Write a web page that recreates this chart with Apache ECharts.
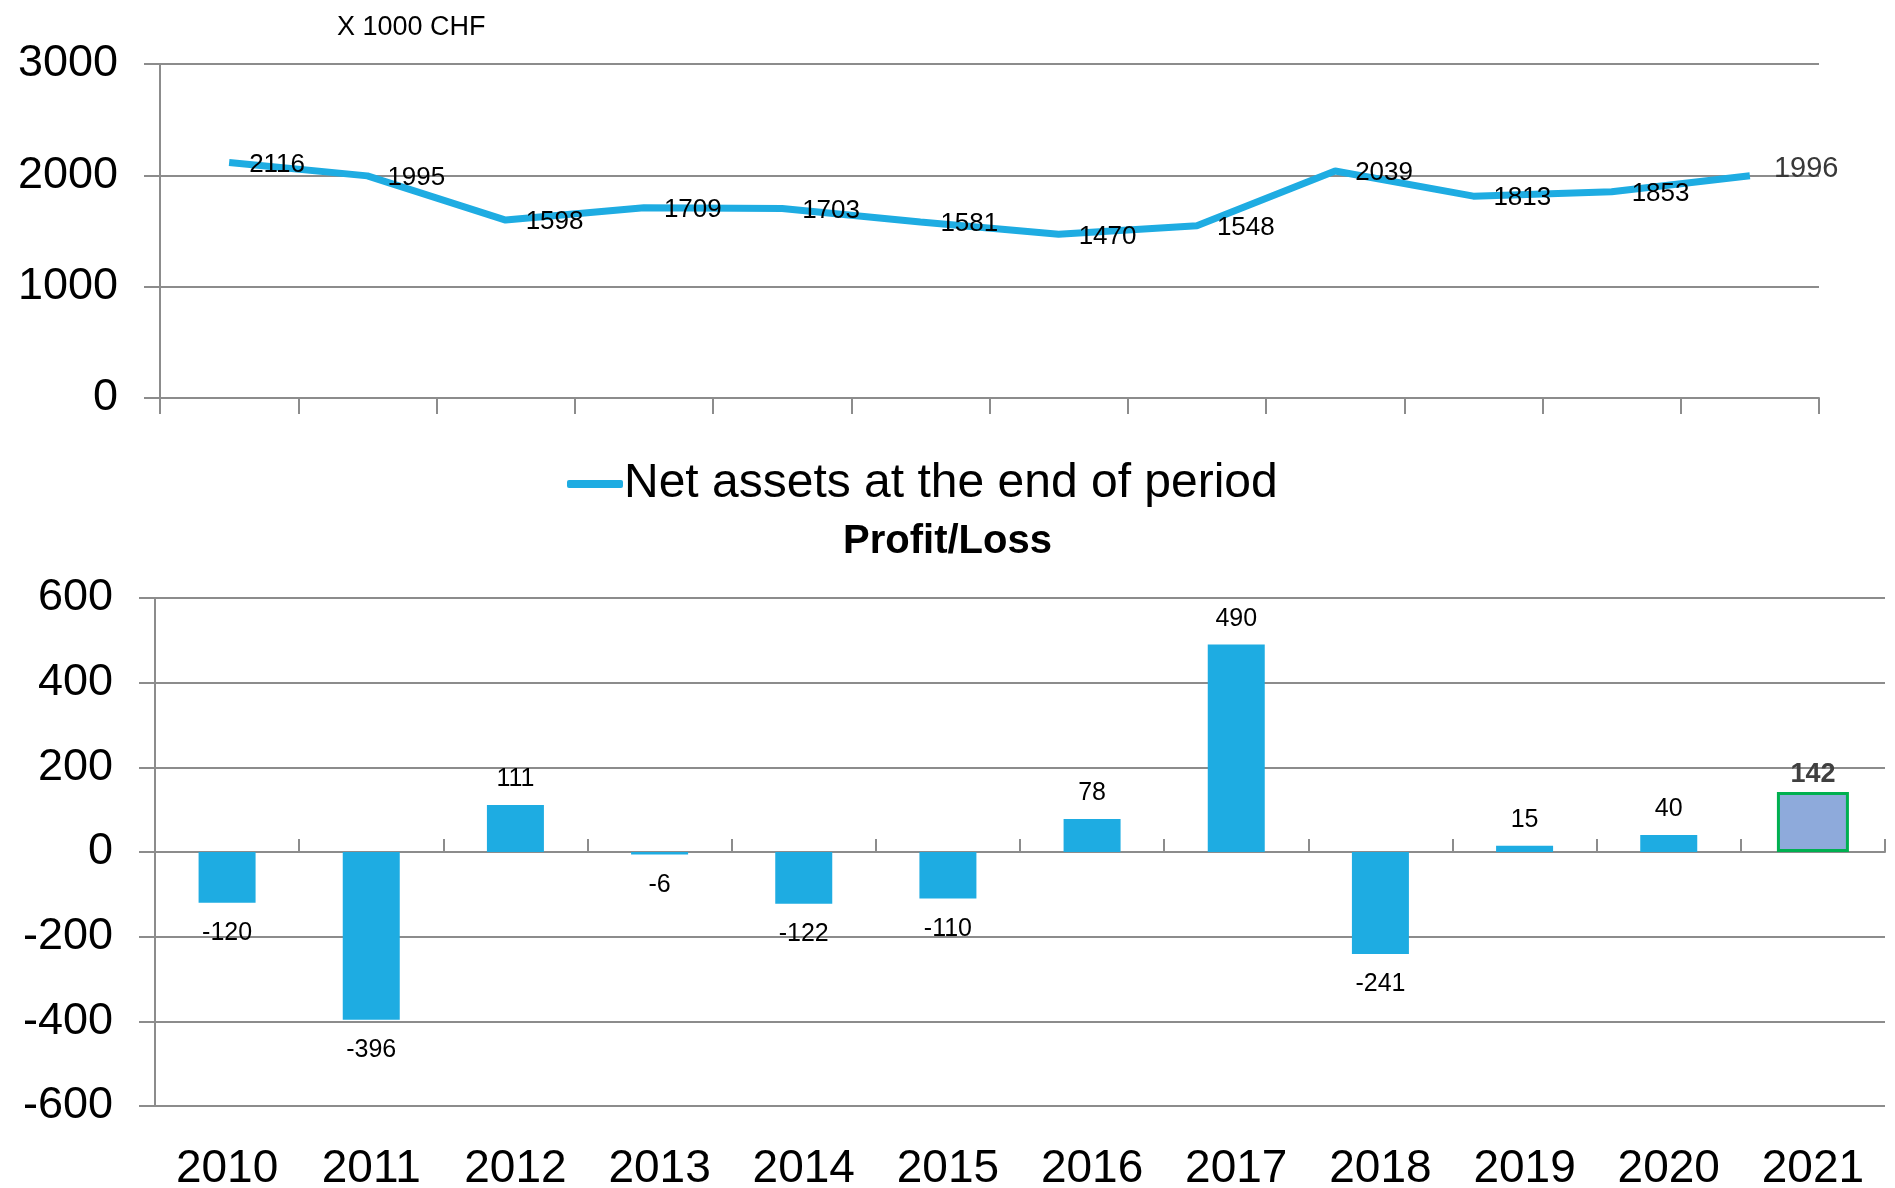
<!DOCTYPE html>
<html>
<head>
    <meta charset="UTF-8">
    <script src="https://cdn.jsdelivr.net/npm/echarts@6/dist/echarts.min.js"></script>
    <style>
        html, body { margin: 0; padding: 0; background: #fff; }
        #main { width: 1895px; height: 1188px; }
    </style>
</head>
<body>
<div id="main"></div>
<script type="text/javascript">
    var years = ['2010', '2011', '2012', '2013', '2014', '2015', '2016', '2017', '2018', '2019', '2020', '2021'];
    var netAssets = [2116, 1995, 1598, 1709, 1703, 1581, 1470, 1548, 2039, 1813, 1853, 1996];
    var profitLoss = [-120, -396, 111, -6, -122, -110, 78, 490, -241, 15, 40, 142];
    var assetTicks = [0, 1000, 2000, 3000];
    var profitTicks = [-600, -400, -200, 0, 200, 400, 600];
    var lastIdx = years.length - 1;

    var font = "'Liberation Sans', Arial, sans-serif";
    var blue = '#1eace2';
    var grey = '#8c8c8c';

    var lineData = [];
    for (var i = 0; i < netAssets.length; i++) {
        if (i == lastIdx) {
            lineData.push({value: netAssets[i], label: {color: '#383838', fontSize: 29, offset: [4, -7]}});
        } else {
            lineData.push(netAssets[i]);
        }
    }

    var barData = [];
    var lastBarData = [];
    for (i = 0; i < profitLoss.length; i++) {
        var neg = profitLoss[i] < 0;
        if (i == lastIdx) {
            barData.push('-');
            lastBarData.push({value: profitLoss[i], label: {position: 'top', distance: 4}});
        } else {
            barData.push({value: profitLoss[i], label: {position: neg ? 'bottom' : 'top', distance: neg ? 18 : 13}});
            lastBarData.push('-');
        }
    }

    var myChart = echarts.init(document.getElementById('main'));
    var option = {
        animation: false,
        title: [
            {
                text: 'X 1000 CHF', left: 332, top: 9,
                textStyle: {fontFamily: font, fontSize: 27, fontWeight: 'normal', color: '#000'}
            },
            {
                text: 'Profit/Loss', left: 'center', top: 517,
                textStyle: {fontFamily: font, fontSize: 40, fontWeight: 'bold', color: '#000'}
            }
        ],
        legend: {
            data: ['Net assets at the end of period'],
            left: 562, top: 455,
            icon: 'roundRect',
            itemWidth: 56, itemHeight: 8, itemGap: 4,
            textStyle: {fontFamily: font, fontSize: 48, color: '#000', padding: [0, 0, 0, -4]}
        },
        grid: [
            {left: 160, right: 76, top: 64, bottom: 790, outerBoundsMode: 'none'},
            {left: 155, right: 10, top: 598, bottom: 82, outerBoundsMode: 'none'}
        ],
        xAxis: [
            {
                gridIndex: 0, type: 'category', data: years, boundaryGap: true,
                axisLine: {lineStyle: {color: grey, width: 2}},
                axisTick: {show: true, interval: 0, length: 16, lineStyle: {color: grey, width: 2}},
                axisLabel: {show: false}
            },
            {
                gridIndex: 1, type: 'category', data: years, position: 'bottom',
                axisLine: {show: false, onZero: false},
                axisTick: {show: false},
                axisLabel: {interval: 0, fontFamily: font, fontSize: 46, color: '#000', margin: 40}
            },
            {
                gridIndex: 1, type: 'category', data: years, position: 'top',
                axisLine: {show: true, onZero: true, lineStyle: {color: grey, width: 2}},
                axisTick: {show: true, interval: 0, length: 13, lineStyle: {color: grey, width: 2}},
                axisLabel: {show: false}
            }
        ],
        yAxis: [
            {
                gridIndex: 0, type: 'value',
                min: assetTicks[0], max: assetTicks[assetTicks.length - 1], interval: 1000,
                axisLine: {show: true, lineStyle: {color: grey, width: 2}},
                axisTick: {show: true, length: 16, lineStyle: {color: grey, width: 2}},
                splitLine: {lineStyle: {color: grey, width: 2}},
                axisLabel: {fontFamily: font, fontSize: 45, color: '#000', margin: 42, formatter: function (v) { return String(v); }}
            },
            {
                gridIndex: 1, type: 'value',
                min: profitTicks[0], max: profitTicks[profitTicks.length - 1], interval: 200,
                axisLine: {show: true, lineStyle: {color: grey, width: 2}},
                axisTick: {show: true, length: 16, lineStyle: {color: grey, width: 2}},
                splitLine: {lineStyle: {color: grey, width: 2}},
                axisLabel: {fontFamily: font, fontSize: 45, color: '#000', margin: 42, formatter: function (v) { return String(v); }}
            }
        ],
        series: [
            {
                name: 'Net assets at the end of period',
                type: 'line',
                xAxisIndex: 0, yAxisIndex: 0,
                data: lineData,
                symbol: 'circle',
                symbolSize: 0,
                showSymbol: true,
                lineStyle: {color: blue, width: 7},
                itemStyle: {color: blue},
                label: {
                    show: true, position: 'right', distance: 20, offset: [0, 2],
                    fontFamily: font, fontSize: 26, color: '#000'
                }
            },
            {
                name: 'Profit/Loss',
                type: 'bar',
                xAxisIndex: 2, yAxisIndex: 1,
                data: barData,
                barWidth: 57,
                itemStyle: {color: blue},
                label: {show: true, fontFamily: font, fontSize: 25, color: '#000'}
            },
            {
                name: 'Profit/Loss 2021',
                type: 'bar',
                xAxisIndex: 1, yAxisIndex: 1,
                data: lastBarData,
                barWidth: 72,
                itemStyle: {color: '#8eaadb', borderColor: '#00b050', borderWidth: 3},
                label: {show: true, fontFamily: font, fontSize: 27, fontWeight: 'bold', color: '#404040'}
            }
        ]
    };
    myChart.setOption(option);
</script>
</body>
</html>
